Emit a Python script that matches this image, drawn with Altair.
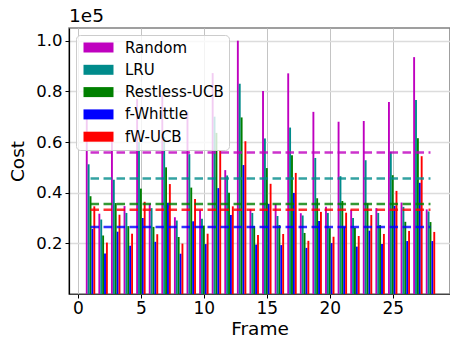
import altair as alt
import pandas as pd

frames = list(range(1, 29))
methods = ["Random", "LRU", "Restless-UCB", "f-Whittle", "fW-UCB"]
colors = ["#bf00bf", "#008b8b", "#008000", "#0000ff", "#ff0000"]

# cost values in units of 1e5
random_cost = [0.695, 0.317, 0.635, 0.347, 0.770, 0.357, 0.786, 0.303, 0.720, 0.331,
               0.872, 0.489, 1.000, 0.335, 0.801, 0.355, 0.871, 0.319, 0.719, 0.344,
               0.680, 0.333, 0.683, 0.339, 0.758, 0.361, 0.935, 0.334]
lru_cost = [0.512, 0.294, 0.451, 0.320, 0.600, 0.339, 0.620, 0.290, 0.552, 0.297,
            0.700, 0.468, 0.830, 0.320, 0.614, 0.308, 0.657, 0.310, 0.537, 0.320,
            0.465, 0.300, 0.528, 0.320, 0.561, 0.344, 0.766, 0.326]
rucb_cost = [0.386, 0.231, 0.359, 0.268, 0.416, 0.265, 0.500, 0.225, 0.420, 0.270,
             0.636, 0.400, 0.697, 0.268, 0.497, 0.272, 0.548, 0.241, 0.378, 0.260,
             0.367, 0.261, 0.358, 0.272, 0.469, 0.285, 0.615, 0.284]
fwhittle_cost = [0.257, 0.160, 0.246, 0.190, 0.300, 0.206, 0.360, 0.159, 0.287, 0.197,
                 0.418, 0.312, 0.509, 0.195, 0.356, 0.193, 0.399, 0.182, 0.288, 0.201,
                 0.266, 0.187, 0.250, 0.197, 0.348, 0.209, 0.439, 0.209]
fwucb_cost = [0.346, 0.203, 0.313, 0.238, 0.364, 0.236, 0.434, 0.199, 0.375, 0.238,
              0.568, 0.346, 0.603, 0.233, 0.435, 0.237, 0.478, 0.210, 0.324, 0.226,
              0.321, 0.229, 0.312, 0.237, 0.407, 0.249, 0.544, 0.245]
mean_cost = [0.559, 0.456, 0.355, 0.264, 0.333]

x_ticks = [0, 5, 10, 15, 20, 25]
y_ticks = [0.2, 0.4, 0.6, 0.8, 1.0]

series = [random_cost, lru_cost, rucb_cost, fwhittle_cost, fwucb_cost]
rows = []
for i, (m, vals) in enumerate(zip(methods, series)):
    for f, v in zip(frames, vals):
        rows.append({"Frame": f, "Method": m, "idx": i, "Cost": v})
df = pd.DataFrame(rows)

rule_df = pd.DataFrame({
    "Method": methods,
    "Mean": mean_cost,
    "start": [min(frames)] * len(methods),
    "end": [max(frames)] * len(methods),
})

FONT = "DejaVu Sans"
xscale = alt.Scale(domain=[-0.71, 29.55], nice=False, zero=False)
yscale = alt.Scale(domain=[0, 1.05], nice=False)

xaxis = alt.Axis(values=x_ticks, format="d", labelFontSize=17, titleFontSize=18.5,
                 grid=True, gridColor="#c4c4c4", gridWidth=1, tickSize=4,
                 labelPadding=2, titlePadding=3, domainColor="#444444",
                 domainWidth=1.2, tickColor="#000000", labelFlush=False,
                 labelColor="#000000", titleColor="#000000", titleFontWeight="normal")
yaxis = alt.Axis(values=y_ticks, format=".1f", labelFontSize=16.5, titleFontSize=18.5,
                 grid=True, gridColor="#dcdcdc", gridWidth=1.5, tickSize=4,
                 labelPadding=3, titlePadding=8, domainColor="#000000",
                 domainWidth=1.2, tickColor="#000000", labelFlush=False,
                 labelColor="#000000", titleColor="#000000", titleFontWeight="normal")

bars = alt.Chart(df).transform_calculate(
    x0="datum.Frame + (datum.idx - 2) * 0.15 - 0.075",
    x1="datum.Frame + (datum.idx - 2) * 0.15 + 0.075",
    base="0",
).mark_rect().encode(
    x=alt.X("x0:Q", scale=xscale, axis=xaxis, title="Frame"),
    x2="x1:Q",
    y=alt.Y("Cost:Q", scale=yscale, axis=yaxis, title="Cost"),
    y2="base:Q",
    color=alt.Color(
        "Method:N",
        scale=alt.Scale(domain=methods, range=colors),
        sort=methods,
        legend=alt.Legend(
            title=None, orient="none", legendX=7, legendY=7,
            symbolType="M-3,-1H3V1H-3Z", symbolSize=100, symbolOffset=10,
            symbolStrokeWidth=0, symbolOpacity=1,
            labelFontSize=15, labelFont=FONT, labelOffset=19, labelLimit=300,
            rowPadding=6.3, padding=5,
            fillColor="rgba(255,255,255,0.8)", strokeColor="#cccccc",
            cornerRadius=4,
        ),
    ),
)

rules = alt.Chart(rule_df).mark_rule(
    strokeDash=[8.5, 4.5], strokeWidth=2.5, opacity=0.8
).encode(
    x=alt.X("start:Q", scale=xscale, axis=xaxis, title="Frame"),
    x2="end:Q",
    y=alt.Y("Mean:Q", scale=yscale, axis=yaxis, title="Cost"),
    stroke=alt.Stroke("Method:N", scale=alt.Scale(domain=methods, range=colors), legend=None),
)

chart = alt.layer(bars, rules).properties(
    width=381,
    height=266,
    title=alt.TitleParams("1e5", anchor="start", frame="group", fontSize=18.5,
                          fontWeight="normal", font=FONT, offset=3, color="#000000"),
    autosize=alt.AutoSizeParams(type="none"),
    padding={"left": 69, "top": 28, "right": 0, "bottom": 43},
).configure(
    font=FONT,
    background="white",
).configure_view(
    stroke="#808080", strokeWidth=1.5
).configure_axis(
    labelFont=FONT, titleFont=FONT
)

chart.save("out.html", embed_options={"renderer": "svg", "actions": False})
